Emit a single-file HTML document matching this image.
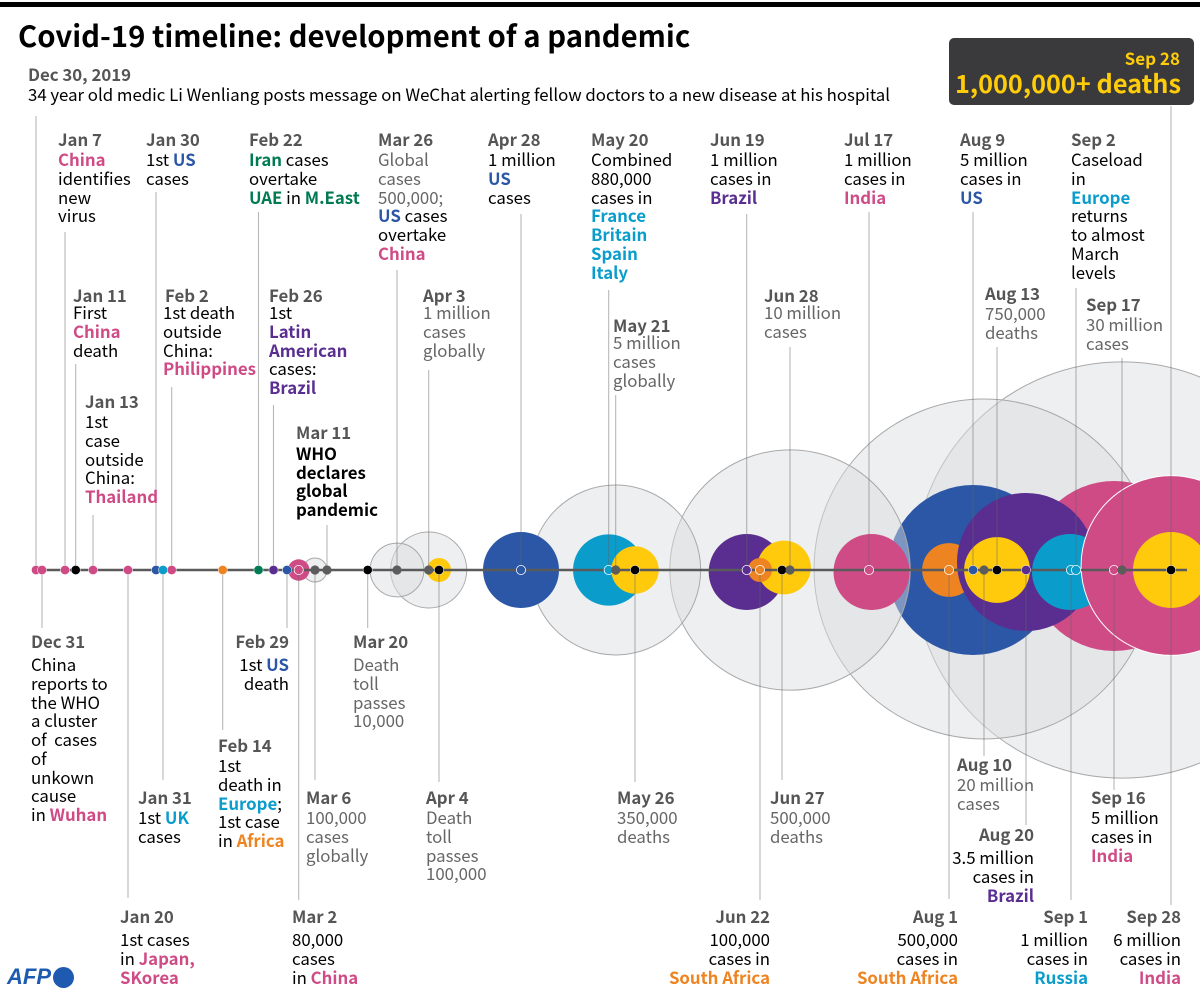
<!DOCTYPE html>
<html lang="en">
<head>
<meta charset="utf-8">
<title>Covid-19 timeline: development of a pandemic</title>
<style>
html,body{margin:0;padding:0;background:#fff}
#page{position:relative;width:1200px;height:1000px;overflow:hidden;background:#fff;font-family:"Noto Sans CJK JP","Liberation Sans",sans-serif;color:#000}
#chart{position:absolute;left:0;top:0}
.n{position:absolute;font-size:16.8px;line-height:18.75px;white-space:nowrap;color:#000}
.n.r{text-align:right}
.n.g{color:#666}
.d{font-weight:700;color:#555;margin-bottom:1.25px}
.d.t{margin-bottom:-1.6px}
.d.w{margin-bottom:4.25px}
.n b{font-weight:700}
.p{color:#cf4b86}.u{color:#2b57a6}.c{color:#0a9dcc}.v{color:#5a2e91}.o{color:#ee8421}.e{color:#007a53}.k{color:#000}
.tx{color:#000}
</style>
</head>
<body>
<div id="page">
<svg id="chart" width="1200" height="1000"></svg>
<div style="position:absolute;left:0;top:2px;width:1200px;height:5px;background:#000"></div>
<div style="position:absolute;left:18px;top:13px;font-size:29.3px;line-height:44px;font-weight:700;white-space:nowrap">Covid-19 timeline: development of a pandemic</div>
<div class="n" style="left:28px;top:65px"><div class="d">Dec 30, 2019</div>34 year old medic Li Wenliang posts message on WeChat alerting fellow doctors to a new disease at his hospital</div>

<div style="position:absolute;left:949px;top:38px;width:245px;height:67px;border-radius:5px;background:#3a3a3c"></div>
<div style="position:absolute;right:20px;top:47px;font-size:17px;line-height:22px;font-weight:700;color:#ffcc0a;white-space:nowrap">Sep 28</div>
<div style="position:absolute;right:19px;top:65px;font-size:25.3px;line-height:36px;font-weight:700;color:#ffcc0a;white-space:nowrap">1,000,000+ deaths</div>

<!-- upper row -->
<div class="n" style="left:58px;top:130px"><div class="d">Jan 7</div><b class="p">China</b><br>identifies<br>new<br>virus</div>
<div class="n" style="left:146px;top:130px"><div class="d">Jan 30</div>1st <b class="u">US</b><br>cases</div>
<div class="n" style="left:249px;top:130px"><div class="d">Feb 22</div><b class="e">Iran</b> cases<br>overtake<br><b class="e">UAE</b> in <b class="e">M.East</b></div>
<div class="n g" style="left:378px;top:130px"><div class="d">Mar 26</div>Global<br>cases<br>500,000;<br><b class="u">US</b> <span class="tx">cases<br>overtake</span><br><b class="p">China</b></div>
<div class="n" style="left:488px;top:130px"><div class="d">Apr 28</div>1 million<br><b class="u">US</b><br>cases</div>
<div class="n" style="left:591px;top:130px"><div class="d">May 20</div>Combined<br>880,000<br>cases in<br><b class="c">France<br>Britain<br>Spain<br>Italy</b></div>
<div class="n" style="left:710px;top:130px"><div class="d">Jun 19</div>1 million<br>cases in<br><b class="v">Brazil</b></div>
<div class="n" style="left:844px;top:130px"><div class="d">Jul 17</div>1 million<br>cases in<br><b class="p">India</b></div>
<div class="n" style="left:960px;top:130px"><div class="d">Aug 9</div>5 million<br>cases in<br><b class="u">US</b></div>
<div class="n" style="left:1071px;top:130px"><div class="d">Sep 2</div>Caseload<br>in<br><b class="c">Europe</b><br>returns<br>to almost<br>March<br>levels</div>

<!-- middle upper -->
<div class="n" style="left:73px;top:286px"><div class="d t">Jan 11</div>First<br><b class="p">China</b><br>death</div>
<div class="n" style="left:85px;top:392px"><div class="d">Jan 13</div>1st<br>case<br>outside<br>China:<br><b class="p">Thailand</b></div>
<div class="n" style="left:163px;top:286px"><div class="d t" style="padding-left:2px">Feb 2</div>1st death<br>outside<br>China:<br><b class="p">Philippines</b></div>
<div class="n" style="left:269px;top:286px"><div class="d t">Feb 26</div>1st<br><b class="v">Latin<br>American</b><br>cases:<br><b class="v">Brazil</b></div>
<div class="n" style="left:296px;top:423px"><div class="d w" style="margin-bottom:2px">Mar 11</div><b class="k">WHO<br>declares<br>global<br>pandemic</b></div>
<div class="n g" style="left:423px;top:286px"><div class="d t">Apr 3</div>1 million<br>cases<br>globally</div>
<div class="n g" style="left:613px;top:316px"><div class="d t">May 21</div>5 million<br>cases<br>globally</div>
<div class="n g" style="left:764px;top:286px"><div class="d t">Jun 28</div>10 million<br>cases</div>
<div class="n g" style="left:985px;top:284px"><div class="d">Aug 13</div>750,000<br>deaths</div>
<div class="n g" style="left:1086px;top:295px"><div class="d">Sep 17</div>30 million<br>cases</div>

<!-- lower -->
<div class="n" style="left:31px;top:632px"><div class="d w">Dec 31</div>China<br>reports to<br>the WHO<br>a cluster<br>of&nbsp; cases<br>of<br>unkown<br>cause<br>in <b class="p">Wuhan</b></div>
<div class="n r" style="right:911px;top:632px"><div class="d w">Feb 29</div>1st <b class="u">US</b><br>death</div>
<div class="n g" style="left:353px;top:632px"><div class="d w">Mar 20</div>Death<br>toll<br>passes<br>10,000</div>
<div class="n" style="left:138px;top:788px"><div class="d">Jan 31</div>1st <b class="c">UK</b><br>cases</div>
<div class="n" style="left:218px;top:736px"><div class="d">Feb 14</div>1st<br>death in<br><b class="c">Europe</b>;<br>1st case<br>in <b class="o">Africa</b></div>
<div class="n g" style="left:306px;top:788px"><div class="d">Mar 6</div>100,000<br>cases<br>globally</div>
<div class="n g" style="left:426px;top:788px"><div class="d">Apr 4</div>Death<br>toll<br>passes<br>100,000</div>
<div class="n g" style="left:617px;top:788px"><div class="d">May 26</div>350,000<br>deaths</div>
<div class="n g" style="left:770px;top:788px"><div class="d">Jun 27</div>500,000<br>deaths</div>
<div class="n g" style="left:957px;top:755px"><div class="d">Aug 10</div>20 million<br>cases</div>
<div class="n r" style="right:166px;top:825px"><div class="d w">Aug 20</div>3.5 million<br>cases in<br><b class="v">Brazil</b></div>
<div class="n" style="left:1091px;top:788px"><div class="d">Sep 16</div>5 million<br>cases in<br><b class="p">India</b></div>
<div class="n" style="left:120px;top:907px"><div class="d w">Jan 20</div>1st cases<br>in <b class="p">Japan,<br>SKorea</b></div>
<div class="n" style="left:292px;top:907px"><div class="d w">Mar 2</div>80,000<br>cases<br>in <b class="p">China</b></div>
<div class="n r" style="right:430px;top:907px"><div class="d w">Jun 22</div>100,000<br>cases in<br><b class="o">South Africa</b></div>
<div class="n r" style="right:242px;top:907px"><div class="d w">Aug 1</div>500,000<br>cases in<br><b class="o">South Africa</b></div>
<div class="n r" style="right:112px;top:907px"><div class="d w">Sep 1</div>1 million<br>cases in<br><b class="c">Russia</b></div>
<div class="n r" style="right:19px;top:907px"><div class="d w">Sep 28</div>6 million<br>cases in<br><b class="p">India</b></div>

<div style="position:absolute;left:7px;top:962px;font-family:'Liberation Sans',sans-serif;font-style:italic;font-weight:700;font-size:22px;line-height:30px;color:#1d5ab0">AFP</div>
<div style="position:absolute;left:52.5px;top:966.5px;width:21px;height:21px;border-radius:50%;background:#1d5ab0"></div>
</div>
<script>
// Timeline events
const eventDates = ['Dec 30','Dec 31','Jan 7','Jan 11','Jan 13','Jan 20','Jan 30','Jan 31','Feb 2','Feb 14','Feb 22','Feb 26','Feb 29','Mar 2','Mar 6','Mar 11','Mar 20','Mar 26','Apr 3','Apr 4','Apr 28','May 20','May 21','May 26','Jun 19','Jun 22','Jun 27','Jun 28','Jul 17','Aug 1','Aug 9','Aug 10','Aug 13','Aug 20','Sep 1','Sep 2','Sep 16','Sep 17','Sep 28'];
const eventDays = [0,1,8,12,14,21,31,32,34,46,54,58,61,62,66,71,80,86,94,95,119,141,142,147,171,174,179,180,199,214,222,223,226,233,245,246,260,261,272];
const eventTopics = ['asia','asia','asia','deaths','asia','asia','us','europe','asia','africa','mideast','latam','us','asia','cases','cases','deaths','cases','cases','deaths','us','europe','cases','deaths','latam','africa','deaths','cases','asia','africa','us','cases','deaths','latam','europe','europe','asia','cases','deaths'];
const eventMarkers = ['dot','dot','dot','dot','dot','dot','dot','dot','dot','dot','dot','dot','dot','ring','dot','dot','dot','dot','dot','dot','ring','ring','dot','dot','ring','ring','dot','dot','ring','ring','dot','dot','dot','dot','ring','ring','ring','dot','dot'];
// Bubbles, listed back to front; values in millions, as sized in the picture
const bubbleDays = [261,223,222,180,142,94,86,66,119,141,147,171,179,174,199,214,260,233,245,226,272,272,95,62];
const bubbleValues = [30,20,5,10,5,1,0.5,0.1,1,0.88,0.39,1,0.5,0.1,1,0.5,5,3.3,1,0.75,5.6,1,0.1,0.08];
const bubbleTopics = ['cases','cases','us','cases','cases','cases','cases','cases','us','europe','deaths','latam','deaths','africa','asia','africa','asia','latam','europe','deaths','asia','deaths','deaths','asia'];

// Axis functions
function x(day){
  const d=[0,1,8,12,14,21,31,32,34,46,54,58,61,62,66,71,80,86,94,95,119,141,142,147,171,174,179,180,199,214,222,223,226,233,245,246,260,261,272];
  const r=[36,42,65,75.7,93,128,156,163,171.7,222.7,258.5,273.5,287,298.7,315,327,367.7,397,428.7,439,521,608.7,615.7,635,746.7,760,782,790,869,949,973,984,997,1026,1071,1076,1114,1122,1171];
  if(day<=d[0])return r[0];
  for(let i=1;i<d.length;i++){
    if(day<=d[i])return r[i-1]+(day-d[i-1])*(r[i]-r[i-1])/(d[i]-d[i-1]);
  }
  return r[r.length-1];
}
const axisY=570;
function radius(millions){return 38*Math.sqrt(millions);}

// Styling and layout
const topicColour={asia:'#cf4b86',us:'#2b57a6',europe:'#0a9dcc',latam:'#5a2e91',africa:'#ee8421',mideast:'#007a53',deaths:'#000',cases:'#5c5c5c'};
const bubbleColour={asia:'#cf4b86',us:'#2b57a6',europe:'#0a9dcc',latam:'#5a2e91',africa:'#ee8421',deaths:'#ffc90c'};
const bubbleNudge={'cases-223':[0,-1],'latam-233':[0,-8],'asia-260':[0,-4],'asia-272':[0,-4.5],'asia-199':[2.5,2],'europe-245':[-1,2],'latam-171':[0,2],'deaths-179':[2,-2.5]};
const stemEnd={'Dec 30':116,'Dec 31':628,'Jan 7':232,'Jan 11':364,'Jan 13':515,'Jan 20':898,'Jan 30':192,'Jan 31':780,'Feb 2':387,'Feb 14':730,'Feb 22':212,'Feb 26':405,'Feb 29':628,'Mar 2':900,'Mar 6':780,'Mar 11':525,'Mar 20':628,'Mar 26':270,'Apr 3':370,'Apr 4':782,'Apr 28':214,'May 20':290,'May 21':395,'May 26':782,'Jun 19':214,'Jun 22':900,'Jun 27':780,'Jun 28':347,'Jul 17':212,'Aug 1':899,'Aug 9':212,'Aug 10':756,'Aug 13':347,'Aug 20':825,'Sep 1':900,'Sep 2':288,'Sep 16':790,'Sep 17':358,'Sep 28':106};
// Sep 28 has a stem both ways
const extraStemEnd={day:272,y:905};

const svg=document.getElementById('chart');
const NS='http://www.w3.org/2000/svg';
function add(tag,attrs){
  const el=document.createElementNS(NS,tag);
  for(const k in attrs)el.setAttribute(k,attrs[k]);
  svg.appendChild(el);
  return el;
}

bubbleDays.forEach(function(day,i){
  const topic=bubbleTopics[i];
  const nudge=bubbleNudge[topic+'-'+day]||[0,0];
  const grey=topic==='cases';
  const c=add('circle',{
    cx:x(day)+nudge[0],
    cy:axisY+nudge[1],
    r:radius(bubbleValues[i]),
    fill:grey?'rgba(219,221,224,0.47)':bubbleColour[topic],
    stroke:grey?'#a9a9a9':(day===272&&topic==='asia'?'#fff':'none'),
    'stroke-width':1
  });
  
  
});

eventDays.forEach(function(day,i){
  const s=add('line',{x1:x(day),x2:x(day),y1:axisY,y2:stemEnd[eventDates[i]],stroke:'rgba(100,100,100,0.46)','stroke-width':1.1});
  
  
});
const extraStem=add('line',{x1:x(extraStemEnd.day),x2:x(extraStemEnd.day),y1:axisY,y2:extraStemEnd.y,stroke:'rgba(100,100,100,0.46)','stroke-width':1.1});



const axisLine=add('line',{x1:x(eventDays[0]),x2:1187,y1:axisY,y2:axisY,stroke:'#5a5a5a','stroke-width':2.4});



eventDays.forEach(function(day,i){
  const ring=eventMarkers[i]==='ring';
  const greyDot=eventTopics[i]==='cases';
  const m=add('circle',{cx:x(day),cy:axisY,r:4.6,fill:topicColour[eventTopics[i]],stroke:greyDot?'none':'#fff','stroke-width':ring?0.8:0.5});
  
  
});
</script>
</body>
</html>
